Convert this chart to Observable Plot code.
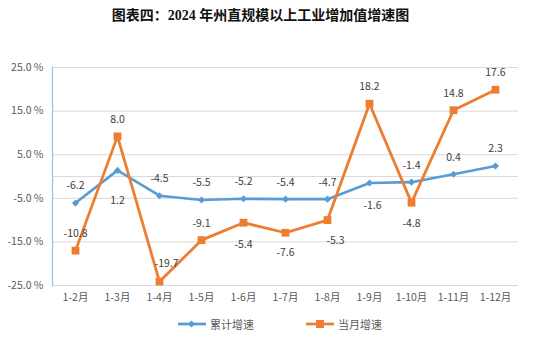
<!DOCTYPE html>
<html><head><meta charset="utf-8">
<script src="https://cdn.jsdelivr.net/npm/d3@7"></script>
<script src="https://cdn.jsdelivr.net/npm/@observablehq/plot@0.6"></script>
<style>
body{margin:0;background:#fff;width:541px;height:344px;overflow:hidden;font-family:"Noto Sans CJK SC",sans-serif;}
#title{height:36px;line-height:32px;width:521px;text-align:center;font-family:"Liberation Serif","Noto Sans CJK SC",serif;font-weight:bold;font-size:14px;color:#111;}
#legend{height:24px;position:relative;font-size:11px;color:#595959;}
.lg{position:absolute;top:0;display:flex;align-items:center;height:24px;}
.lg svg{margin-right:4px;}
</style></head>
<body>
<div id="title">图表四：2024 年州直规模以上工业增加值增速图</div>
<div id="chart"></div>
<div id="legend"></div>
<script>
const months = ["1-2月","1-3月","1-4月","1-5月","1-6月","1-7月","1-8月","1-9月","1-10月","1-11月","1-12月"];
// plotted positions
const cumValues = [-6.1, 1.4, -4.4, -5.4, -5.1, -5.2, -5.2, -1.5, -1.3, 0.5, 2.4];
const monValues = [-17.0, 9.2, -24.1, -14.6, -10.6, -12.9, -10.0, 16.7, -6.0, 15.2, 19.9];
// data labels as printed
const cumLabels = ["-6.2","1.2","-4.5","-5.5","-5.2","-5.4","-4.7","-1.6","-1.4","0.4","2.3"];
const monLabels = ["-10.8","8.0","-19.7","-9.1","-5.4","-7.6","-5.3","18.2","-4.8","14.8","17.6"];
const seriesNames = ["累计增速","当月增速"];
const yTicks = [-25,-15,-5,5,15,25];

const BLUE = "#5B9BD5", ORANGE = "#ED7D31";
const cum = months.map((m,i)=>({m, v:cumValues[i], label:cumLabels[i]}));
const mon = months.map((m,i)=>({m, v:monValues[i], label:monLabels[i]}));

// label placement (style)
const cumBelow = {"1-3月":30, "1-9月":23};
const monBelow = {"1-6月":22, "1-7月":20, "1-8月":21, "1-10月":21};
const monDx = {"1-4月":7, "1-8月":8};
const cumDx = {"1-9月":3};

const txt = {fontSize:10.5, fill:"#404040", fontFamily:"Noto Sans CJK SC, sans-serif"};
function labelMarks(data, below, dxMap){
  const above = data.filter(d=>!(d.m in below));
  const marks = [Plot.text(above.filter(d=>!(d.m in dxMap)), {x:"m", y:"v", text:"label", dy:-17, ...txt})];
  for (const d of data) {
    if (d.m in below || d.m in dxMap) {
      marks.push(Plot.text([d], {x:"m", y:"v", text:"label", dy: (d.m in below) ? below[d.m] : -18, dx: dxMap[d.m]||0, ...txt}));
    }
  }
  return marks;
}

const plot = Plot.plot({
  width:541, height:276,
  marginTop:31, marginBottom:27, marginLeft:52, marginRight:23,
  x:{type:"point", domain:months, padding:0.5, label:null, tickSize:0, tickPadding:8},
  y:{domain:[-25,25], ticks:yTicks, tickFormat:d=>d.toFixed(1)+" %", label:null, tickSize:0, tickPadding:9},
  style:{fontSize:"10.5px", color:"#595959", fontFamily:"Noto Sans CJK SC, sans-serif", background:"transparent"},
  marks:[
    Plot.ruleY(yTicks, {stroke:"#D9D9D9", strokeWidth:1}),
    Plot.ruleY([0], {stroke:"#D9D9D9", strokeWidth:1}),
    Plot.frame({anchor:"left", stroke:"#9DC3E6", strokeWidth:1.3}),
    Plot.line(cum, {x:"m", y:"v", stroke:BLUE, strokeWidth:2.6}),
    Plot.line(mon, {x:"m", y:"v", stroke:ORANGE, strokeWidth:2.8}),
    Plot.dot(cum, {x:"m", y:"v", symbol:"diamond2", r:3.2, fill:BLUE, stroke:null}),
    Plot.dot(mon, {x:"m", y:"v", symbol:"square", r:4.4, fill:ORANGE, stroke:null}),
    ...labelMarks(cum, cumBelow, cumDx),
    ...labelMarks(mon, monBelow, monDx)
  ]
});
document.getElementById("chart").appendChild(plot);

// legend
const lg = document.getElementById("legend");
const legendItems = [
  {name:seriesNames[0], color:BLUE, left:178, marker:'<path d="M13.5 2.5 L17 6 L13.5 9.5 L10 6 Z" fill="'+BLUE+'"/>'},
  {name:seriesNames[1], color:ORANGE, left:306, marker:'<rect x="10" y="2" width="8" height="8" fill="'+ORANGE+'"/>'}
];
for (const it of legendItems) {
  const div = document.createElement("div");
  div.className = "lg";
  div.style.left = it.left + "px";
  div.innerHTML = '<svg width="28" height="12"><line x1="0" x2="28" y1="6" y2="6" stroke="'+it.color+'" stroke-width="2.7"/>'+it.marker+'</svg><span>'+it.name+'</span>';
  lg.appendChild(div);
}
</script>
</body></html>
